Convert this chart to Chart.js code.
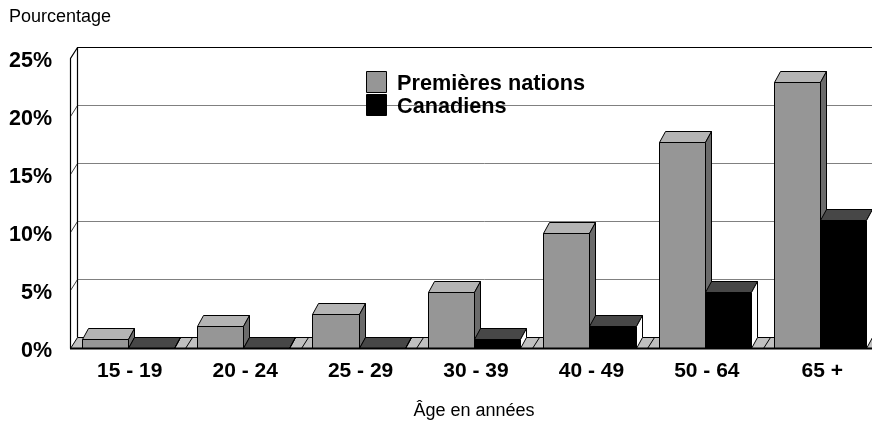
<!DOCTYPE html>
<html>
<head>
<meta charset="utf-8">
<script src="https://cdn.jsdelivr.net/npm/chart.js@4/dist/chart.umd.min.js"></script>
<style>
  html, body { margin: 0; padding: 0; background: #fff; overflow: hidden; }
  #wrap { position: relative; width: 890px; height: 422px; }
</style>
</head>
<body>
<div id="wrap"><canvas id="c"></canvas></div>
<script>
// Age groups and prevalence (%) by population
const categories = ['15 - 19', '20 - 24', '25 - 29', '30 - 39', '40 - 49', '50 - 64', '65 +'];
const premieresNations = [0.8, 1.9, 2.9, 4.8, 9.9, 17.8, 22.9];
const canadiens = [0, 0, 0, 0.8, 1.9, 4.8, 11.0];
const seriesLabels = ['Premières nations', 'Canadiens'];
const yTicks = [0, 5, 10, 15, 20, 25];

// Shading for the three visible faces of each column
const faceColors = [
  { front: '#969696', top: '#b4b4b4', side: '#6b6b6b' },
  { front: '#000000', top: '#474747', side: '#ffffff' }
];
const FONT = "'Liberation Sans', Arial, sans-serif";
const BAR_DX = 6, BAR_DY = -11;   // column depth
const WALL_DX = 7, WALL_DY = -11; // frame depth

function shape(ctx, pts, fill) {
  ctx.beginPath();
  ctx.moveTo(pts[0][0], pts[0][1]);
  for (let i = 1; i < pts.length; i++) ctx.lineTo(pts[i][0], pts[i][1]);
  ctx.closePath();
  if (fill) { ctx.fillStyle = fill; ctx.fill(); }
  ctx.stroke();
}

// Draws the 3D frame (walls, floor) and the extruded columns
const scene3d = {
  id: 'scene3d',
  beforeDatasetsDraw(chart) {
    const { ctx, chartArea: a, scales: { x, y } } = chart;
    const right = chart.width + 20;
    const bottom = Math.round(y.getPixelForValue(0)) + 0.5;
    const top = Math.round(y.getPixelForValue(25)) + 0.5;
    const L = a.left + 0.5;
    ctx.save();
    ctx.lineJoin = 'miter';

    // back wall gridlines
    ctx.lineWidth = 1;
    yTicks.forEach(v => {
      if (v === 0 || v === 25) return;
      const yy = Math.round(y.getPixelForValue(v)) + 0.5;
      ctx.strokeStyle = '#808080';
      ctx.beginPath();
      ctx.moveTo(L + WALL_DX, yy + WALL_DY);
      ctx.lineTo(right, yy + WALL_DY);
      ctx.stroke();
      ctx.strokeStyle = '#404040';
      ctx.beginPath();
      ctx.moveTo(L, yy);
      ctx.lineTo(L + WALL_DX, yy + WALL_DY);
      ctx.stroke();
    });

    // side wall outline and top edge of back wall
    ctx.strokeStyle = '#000';
    ctx.lineWidth = 1.2;
    ctx.beginPath();
    ctx.moveTo(L, bottom);
    ctx.lineTo(L, top);
    ctx.lineTo(L + WALL_DX, top + WALL_DY);
    ctx.lineTo(right, top + WALL_DY);
    ctx.moveTo(L + WALL_DX, top + WALL_DY);
    ctx.lineTo(L + WALL_DX, bottom + WALL_DY);
    ctx.stroke();

    // floor
    ctx.lineWidth = 1;
    shape(ctx, [[L, bottom], [right, bottom], [right + WALL_DX, bottom + WALL_DY], [L + WALL_DX, bottom + WALL_DY]], '#c0c0c0');
    const step = a.width / categories.length;
    for (let i = 1; i < categories.length; i++) {
      const xb = Math.round(a.left + i * step) + 0.5;
      ctx.beginPath();
      ctx.moveTo(xb, bottom);
      ctx.lineTo(xb + WALL_DX, bottom + WALL_DY);
      ctx.stroke();
    }

    // columns, left to right so nearer faces overlap correctly
    const metas = chart.data.datasets.map((d, i) => chart.getDatasetMeta(i));
    for (let j = 0; j < categories.length; j++) {
      metas.forEach((meta, i) => {
        const el = meta.data[j];
        const c = faceColors[i];
        const l = Math.round(el.x - el.width / 2) + 0.5;
        const r = Math.round(el.x + el.width / 2) + 0.5;
        const t = Math.round(el.y) + 0.5;
        const b = Math.round(el.base) + 0.5;
        ctx.strokeStyle = '#000';
        ctx.lineWidth = 1;
        if (b - t > 0.5) shape(ctx, [[l, t], [r, t], [r, b], [l, b]], chart.data.datasets[i].backgroundColor);
        shape(ctx, [[l, t], [r, t], [r + BAR_DX, t + BAR_DY], [l + BAR_DX, t + BAR_DY]], c.top);
        shape(ctx, [[r, t], [r, b], [r + BAR_DX, b + BAR_DY], [r + BAR_DX, t + BAR_DY]], c.side);
      });
    }

    // front baseline
    ctx.strokeStyle = '#000';
    ctx.lineWidth = 2;
    ctx.beginPath();
    ctx.moveTo(a.left, bottom);
    ctx.lineTo(right, bottom);
    ctx.stroke();

    // legend
    ctx.lineWidth = 1;
    const lx = 366.5;
    const rows = [71.5, 94.5];
    chart.data.datasets.forEach((d, i) => {
      shape(ctx, [[lx, rows[i]], [lx + 20, rows[i]], [lx + 20, rows[i] + 21], [lx, rows[i] + 21]], d.backgroundColor);
      ctx.fillStyle = '#000';
      ctx.font = 'bold 21.7px ' + FONT;
      ctx.textAlign = 'left';
      ctx.textBaseline = 'alphabetic';
      ctx.fillText(d.label, 397, rows[i] + 18.5);
    });

    // vertical axis caption
    ctx.font = '18px ' + FONT;
    ctx.fillText('Pourcentage', 9, 22);

    ctx.restore();
    return false;
  }
};

new Chart(document.getElementById('c'), {
  type: 'bar',
  data: {
    labels: categories,
    datasets: [
      { label: seriesLabels[0], data: premieresNations, backgroundColor: faceColors[0].front },
      { label: seriesLabels[1], data: canadiens, backgroundColor: faceColors[1].front }
    ]
  },
  options: {
    responsive: true,
    maintainAspectRatio: false,
    animation: false,
    events: [],
    layout: { padding: { top: 58, left: 0, right: 12, bottom: 0 } },
    datasets: { bar: { barPercentage: 1.0, categoryPercentage: 0.8 } },
    plugins: { legend: { display: false }, tooltip: { enabled: false }, title: { display: false } },
    scales: {
      x: {
        grid: { display: false, drawTicks: false },
        border: { display: false },
        ticks: { color: '#000', padding: 11, labelOffset: 2, font: { family: FONT, size: 21, weight: 'bold' } },
        title: { display: true, text: 'Âge en années', color: '#000', padding: { top: 0, bottom: 0 }, font: { family: FONT, size: 18 } },
        afterFit(s) { s.height = 74; }
      },
      y: {
        min: 0,
        max: 25,
        grid: { display: false, drawTicks: false },
        border: { display: false },
        afterBuildTicks(s) { s.ticks = yTicks.map(v => ({ value: v })); },
        ticks: { color: '#000', padding: 18, labelOffset: 3, font: { family: FONT, size: 21.5, weight: 'bold' }, callback: v => v + '%' },
        afterFit(s) { s.width = 70; }
      }
    }
  },
  plugins: [scene3d]
});
</script>
</body>
</html>
